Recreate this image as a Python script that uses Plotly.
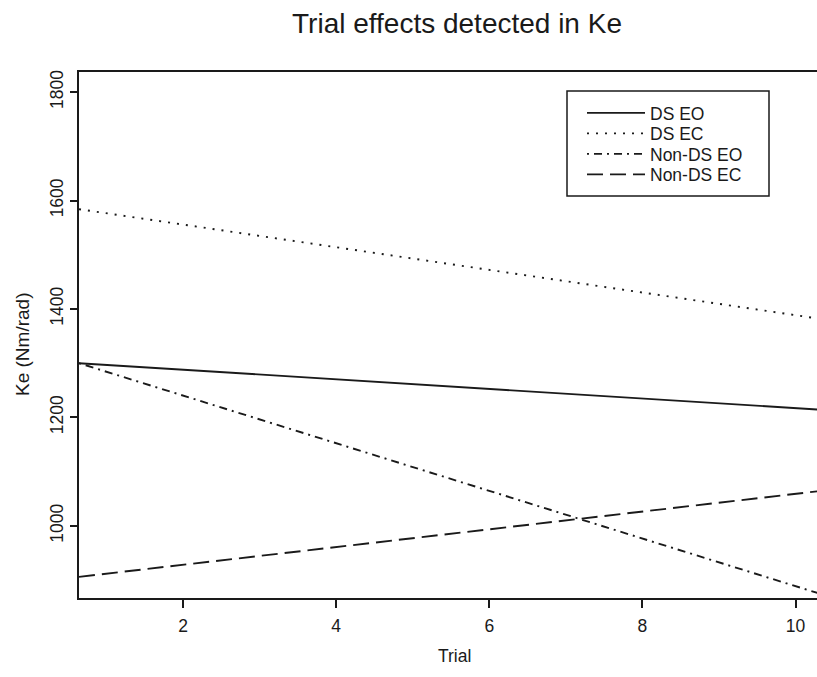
import plotly.graph_objects as go

# ---- data ----
trial_span = [0.64, 10.36]          # fitted lines drawn across the whole trial axis
series_names = ["DS EO", "DS EC", "Non-DS EO", "Non-DS EC"]
ds_eo = [1300, 1214]
ds_ec = [1584, 1381]
nonds_eo = [1300, 873]
nonds_ec = [906, 1065]
x_ticks = [2, 4, 6, 8, 10]
y_ticks = [1000, 1200, 1400, 1600, 1800]

series_values = [ds_eo, ds_ec, nonds_eo, nonds_ec]

# ---- styles ----
INK = "#1a1a1a"
FONT = "Liberation Sans, Arial, sans-serif"
dashes = ["solid", "2px,7px", "2px,5px,8px,5px", "16px,7px"]
legend_ids = ["legend", "legend2", "legend3", "legend4"]

# pixel geometry of the plot area
L, T, W, H = 79, 72, 738, 526

def px_x(p):
    return (p - L) / W

def px_y(p):
    return (T + H - p) / H

fig = go.Figure()
for name, vals, dash, lg in zip(series_names, series_values, dashes, legend_ids):
    fig.add_trace(go.Scatter(
        x=trial_span, y=vals, mode="lines", name=name,
        line=dict(color=INK, width=1.9, dash=dash),
        legend=lg, showlegend=True,
    ))

row_y = [113, 133.5, 154, 174.5]
legend_layout = {}
for lg, ry in zip(legend_ids, row_y):
    legend_layout[lg] = dict(
        x=px_x(582), y=px_y(ry), xanchor="left", yanchor="middle",
        bgcolor="rgba(0,0,0,0)", borderwidth=0, itemwidth=58,
        font=dict(family=FONT, size=17.5, color=INK),
    )

fig.update_layout(
    width=817, height=677,
    margin=dict(l=L, r=0, t=T, b=677 - T - H, pad=0, autoexpand=False),
    paper_bgcolor="white", plot_bgcolor="white",
    font=dict(family=FONT, color=INK),
    title=dict(text="Trial effects detected in Ke", x=457 / 817, xref="container",
               xanchor="center", y=1 - 23 / 677, yref="container", yanchor="middle",
               font=dict(family=FONT, size=28, color=INK)),
    xaxis=dict(range=[0.64, 10.28], tickvals=x_ticks, ticks="outside", ticklen=8,
               tickwidth=1.5, tickcolor=INK, showline=True, linecolor=INK, linewidth=1.5,
               mirror=True, showgrid=False, zeroline=False, ticklabeloverflow="allow",
               ticklabelstandoff=3, automargin=False,
               tickfont=dict(family=FONT, size=17.5, color=INK)),
    yaxis=dict(range=[867, 1837], tickvals=y_ticks, tickangle=-90, ticks="outside",
               ticklen=7, tickwidth=1.5, tickcolor=INK, showline=True, linecolor=INK,
               linewidth=1.5, showgrid=False, zeroline=False, ticklabeloverflow="allow",
               automargin=False,
               tickfont=dict(family=FONT, size=17.5, color=INK)),
    annotations=[
        dict(text="Trial", x=5.55, xref="x", y=px_y(656), yref="paper",
             xanchor="center", yanchor="middle", showarrow=False,
             font=dict(family=FONT, size=17.5, color=INK)),
        dict(text="Ke (Nm/rad)", x=px_x(22), xref="paper", y=px_y(345), yref="paper",
             xanchor="center", yanchor="middle", textangle=-90, showarrow=False,
             font=dict(family=FONT, size=19, color=INK)),
    ],
    shapes=[
        dict(type="rect", xref="paper", yref="paper",
             x0=px_x(567), x1=px_x(769), y0=px_y(196), y1=px_y(91),
             line=dict(color=INK, width=1.5), fillcolor="rgba(0,0,0,0)"),
    ],
    **legend_layout,
)

fig.write_html("out.html")
